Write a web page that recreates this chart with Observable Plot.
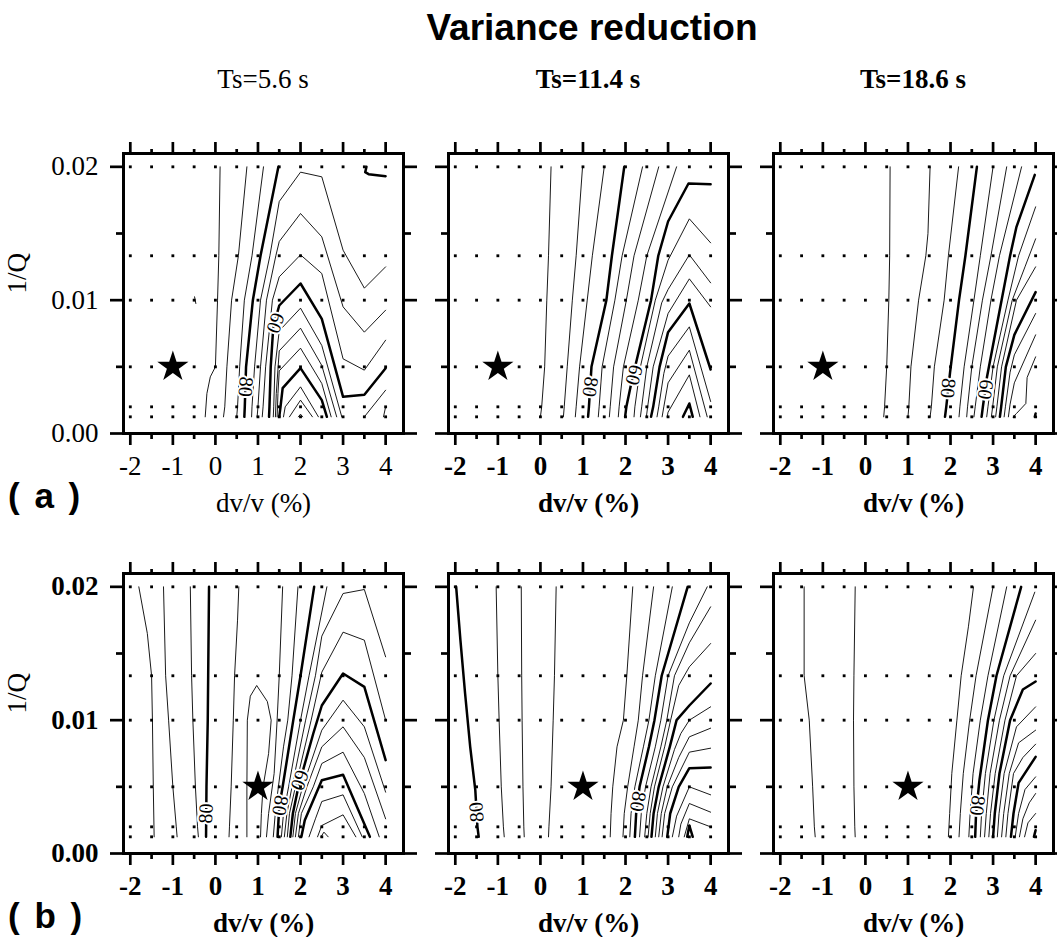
<!DOCTYPE html>
<html><head><meta charset="utf-8">
<script src="https://cdn.jsdelivr.net/npm/d3@7"></script>
<script src="https://cdn.jsdelivr.net/npm/@observablehq/plot@0.6"></script>
<style>
html,body{margin:0;padding:0;background:#fff;overflow:hidden;}
#page{position:relative;width:1057px;height:937px;background:#fff;overflow:hidden;}
.abs{position:absolute;white-space:pre;line-height:1;}
.title{font-family:"Liberation Sans",Arial,sans-serif;font-weight:bold;font-size:37px;transform:translateX(-50%);}
.sub{font-family:"Liberation Serif","Times New Roman",serif;font-size:27px;transform:translateX(-50%);}
.tag{font-family:"Liberation Sans",Arial,sans-serif;font-weight:bold;font-size:35px;word-spacing:5px;}
.panel{position:absolute;}
</style></head><body><div id="page"></div>
<script>
// grid of tested models
const dvvGrid = [-2, -1.5, -1, -0.5, 0, 0.5, 1, 1.5, 2, 2.5, 3, 3.5, 4];
const invQGrid = [0.00125, 0.002, 0.005, 0.01, 0.01333, 0.02];
const xMajor = [-2, -1, 0, 1, 2, 3, 4];
const xMinor = [-1.5, -0.5, 0.5, 1.5, 2.5, 3.5];
const yMajor = [0, 0.01, 0.02];
const yMinor = [0.005, 0.015];
const periods = ["Ts=5.6 s", "Ts=11.4 s", "Ts=18.6 s"];
const rowTags = ["( a )", "( b )"];
const starRowA = {dvv: -1, invQ: 0.005};
const starRowB = {dvv: 1, invQ: 0.005};

// contour lines: [variance reduction level (%), [[dv/v (%), 1/Q in units of 1e-3], ...]]
const contoursA1 = [
  [95, [[-0.24,1.25],[-0.2,3.0],[-0.12,4.25],[0,5],[0.05,10],[0.08,13.33],[0.11,20]]],
  [95, [[-0.49,10.25],[-0.46,9.75]]],
  [90, [[0.19,1.25],[0.22,2],[0.27,5],[0.38,10],[0.54,13.33],[0.74,20]]],
  [85, [[0.5,1.25],[0.52,2],[0.57,5],[0.68,10],[0.86,13.33],[1.13,20]]],
  [80, [[0.68,1.25],[0.69,2],[0.72,5],[0.88,10],[1.06,13.33],[1.48,20]]],
  [75, [[0.85,1.25],[0.86,2],[0.92,5],[1.06,10],[1.28,13.33],[1.5,17.4],[2,19.6],[2.5,19.25],[3,13.75],[3.5,10.9],[4,12.5]]],
  [70, [[0.98,1.25],[1.0,2],[1.06,5],[1.2,10],[1.42,13.33],[1.5,14.4],[2,16.5],[2.5,14.75],[3,9.5],[3.5,7.6],[4,9.25]]],
  [65, [[1.1,1.25],[1.12,2],[1.18,5],[1.34,10],[1.5,11.75],[2,13.4],[2.5,12],[3,5.6],[3.5,4.75],[4,7]]],
  [60, [[1.26,1.25],[1.27,2],[1.3,5],[1.36,8],[1.5,9.6],[2,11.25],[2.5,8.6],[3,2.75],[3.5,2.9],[4,4.9]]],
  [55, [[1.36,1.25],[1.37,2],[1.4,5],[1.5,7.7],[2,9.4],[2.5,6.6],[2.97,1.25]]],
  [50, [[1.41,1.25],[1.43,3],[1.5,6.2],[2,7.9],[2.5,5.1],[2.85,1.25]]],
  [45, [[1.45,1.25],[1.47,3],[1.5,4.7],[2,6.4],[2.5,3.75],[2.72,1.25]]],
  [40, [[1.5,1.25],[1.53,2],[1.58,3.4],[2,4.9],[2.5,2.5],[2.62,1.25]]],
  [35, [[1.6,1.25],[1.64,2],[2,3.5],[2.42,1.25]]],
  [30, [[1.74,1.25],[2,2.5],[2.28,1.25]]],
  [25, [[1.95,1.25],[2,1.45],[2.05,1.25]]],
  [55, [[3.5,1.25],[4,3.25]]],
  [50, [[3.95,1.25],[4,2.0]]],
  [80, [[3.55,20],[3.52,19.6],[3.6,19.45],[4,19.3]]]
];
const contoursA2 = [
  [95, [[0,1.25],[0.03,2],[0.1,5],[0.15,10],[0.19,13.33],[0.25,20]]],
  [90, [[0.54,1.25],[0.56,2],[0.63,5],[0.75,10],[0.84,13.33],[0.99,20]]],
  [85, [[0.82,1.25],[0.84,2],[0.92,5],[1.1,10],[1.22,13.33],[1.5,20]]],
  [80, [[1.12,1.25],[1.14,2],[1.2,5],[1.55,10],[1.68,13.33],[1.97,20]]],
  [75, [[1.36,1.25],[1.38,2],[1.45,5],[1.75,10],[1.92,13.33],[2.4,20]]],
  [70, [[1.62,1.25],[1.64,2],[1.72,5],[2.02,10],[2.2,13.33],[2.78,20]]],
  [65, [[1.83,1.25],[1.85,2],[1.95,5],[2.3,10],[2.5,13.33],[3.2,20]]],
  [60, [[1.99,1.25],[2.02,2],[2.15,4.0],[2.27,5.6],[2.6,10],[2.77,13.33],[3.0,15.9],[3.48,18.75],[4,18.7]]],
  [55, [[2.2,1.25],[2.22,2],[2.35,5],[2.7,10],[3,13],[3.5,16.1],[4,14.3]]],
  [50, [[2.35,1.25],[2.38,2],[2.5,5],[2.85,9.8],[3,10.8],[3.5,13.4],[4,11.3]]],
  [45, [[2.49,1.25],[2.52,2],[2.65,5],[3,9.0],[3.5,11.6],[4,9.5]]],
  [40, [[2.6,1.25],[2.65,2],[2.8,5],[3,7.6],[3.5,9.75],[4,4.8]]],
  [35, [[2.74,1.25],[2.78,2],[2.9,4.5],[3,5.8],[3.5,8.0],[4,2.4]]],
  [30, [[2.86,1.25],[2.9,2],[3,3.8],[3.5,6.25],[3.92,1.25]]],
  [25, [[2.98,1.25],[3,1.6],[3.5,4.4],[3.75,1.25]]],
  [20, [[3.35,1.25],[3.5,2.25],[3.58,1.25]]]
];
const contoursA3 = [
  [95, [[0.43,1.25],[0.45,2],[0.5,5],[0.55,10],[0.57,13.33],[0.58,20]]],
  [90, [[1.0,1.25],[1.02,2],[1.07,5],[1.25,10],[1.42,13.33],[1.47,15],[1.52,20]]],
  [85, [[1.52,1.25],[1.55,2],[1.62,5],[1.85,10],[1.95,13.33],[2.19,20]]],
  [80, [[1.87,1.25],[1.9,2],[1.99,4.6],[2.2,10],[2.35,13.33],[2.62,20]]],
  [75, [[2.2,1.25],[2.22,2],[2.32,5],[2.55,10],[2.7,13.33],[3.0,20]]],
  [70, [[2.38,1.25],[2.4,2],[2.5,5],[2.75,10],[2.95,13.33],[3.32,20]]],
  [65, [[2.55,1.25],[2.58,2],[2.7,5],[2.95,10],[3.15,13.33],[3.67,20]]],
  [60, [[2.73,1.25],[2.76,2],[2.86,4.3],[3.2,10],[3.4,13.33],[3.55,15.5],[3.98,19.4]]],
  [55, [[2.85,1.25],[2.88,2],[3.0,5],[3.35,10],[3.6,13.33],[4,17]]],
  [50, [[2.96,1.25],[2.99,2],[3.1,5],[3.45,10],[3.75,12.5],[4,14.6]]],
  [45, [[3.06,1.25],[3.09,2],[3.2,5],[3.55,10],[4,12.5]]],
  [40, [[3.16,1.25],[3.19,2],[3.3,5],[3.5,7.4],[4,10.6]]],
  [35, [[3.26,1.25],[3.29,2],[3.4,4.6],[3.5,5.9],[4,9]]],
  [30, [[3.36,1.25],[3.4,2.2],[3.5,3.8],[4,7.4]]],
  [25, [[3.47,1.25],[3.55,1.5],[3.77,2.25],[3.8,4.2],[4,5.75]]],
  [20, [[3.98,1.25],[4,1.5]]]
];
const contoursB1 = [
  [65, [[-1.8,20],[-1.6,16.5],[-1.5,13.33],[-1.48,10],[-1.46,5],[-1.44,1.25]]],
  [70, [[-1.22,20],[-1.17,13.33],[-1.1,10],[-1.0,5],[-0.92,2],[-0.9,1.25]]],
  [75, [[-0.59,20],[-0.56,13.33],[-0.53,10],[-0.47,5],[-0.42,2],[-0.4,1.25]]],
  [80, [[-0.15,20],[-0.17,13.33],[-0.18,10],[-0.21,5],[-0.22,1.25]]],
  [85, [[0.55,20],[0.52,17.5],[0.45,13.33],[0.42,10],[0.37,5],[0.33,2],[0.32,1.25]]],
  [90, [[0.74,1.25],[0.74,5],[0.75,10],[0.82,11.8],[0.97,12.6],[1.22,11.4],[1.31,10],[1.25,7.5],[1.12,5],[1.08,3],[1.06,1.25]]],
  [85, [[1.2,1.25],[1.25,3],[1.38,6],[1.45,10],[1.5,13.33],[1.58,20]]],
  [85, [[1.36,1.25],[1.42,3.5],[1.6,8],[1.7,10],[1.8,13.33],[1.94,20]]],
  [80, [[1.46,1.25],[1.5,3.5],[1.58,5],[1.83,10],[2.0,13.33],[2.32,20]]],
  [75, [[1.55,1.25],[1.6,3],[1.72,5],[2.0,10],[2.2,13.33],[2.62,20]]],
  [70, [[1.62,1.25],[1.68,3],[1.8,5],[2.12,10],[2.35,13.33],[2.5,16.3],[3,19.5],[3.5,19.8],[4,14.75]]],
  [65, [[1.69,1.25],[1.74,3],[1.88,5],[2.25,10],[2.5,13.6],[3,16.6],[3.5,16],[4,10]]],
  [60, [[1.76,1.25],[1.82,3],[1.95,5],[2.3,9],[2.5,11.1],[3,13.5],[3.5,12.5],[4,7]]],
  [55, [[1.82,1.25],[1.88,3],[2.05,5],[2.5,9.25],[3,11.5],[3.5,9.5],[4,4.6]]],
  [50, [[1.88,1.25],[1.95,3],[2.15,5],[2.5,8],[3,9.5],[3.5,7.2],[4,2.6]]],
  [45, [[1.95,1.25],[2.02,3],[2.3,5],[2.5,6.75],[3,7.6],[3.5,4.5],[3.85,1.25]]],
  [40, [[2.02,1.25],[2.1,2.5],[2.5,5.5],[3,5.9],[3.63,1.25]]],
  [35, [[2.2,1.25],[2.35,2.6],[2.5,3.9],[3,4.4],[3.45,1.25]]],
  [30, [[2.4,1.25],[2.5,2.1],[3,2.9],[3.3,1.25]]],
  [25, [[2.48,1.25],[2.55,1.6],[2.65,1.25]]]
];
const contoursB2 = [
  [80, [[-1.98,20],[-1.88,16],[-1.77,12],[-1.65,8],[-1.53,4.75],[-1.48,2],[-1.45,1.25]]],
  [85, [[-1.04,20],[-1.0,13.33],[-0.97,10],[-0.92,5],[-0.87,2],[-0.85,1.25]]],
  [90, [[-0.45,20],[-0.44,13.33],[-0.43,10],[-0.41,5],[-0.39,2],[-0.38,1.25]]],
  [95, [[0.37,20],[0.33,13.33],[0.3,10],[0.25,5],[0.2,2],[0.19,1.25]]],
  [95, [[1.64,1.25],[1.66,3],[1.7,5],[1.8,8],[1.95,10],[2.03,13.33],[2.17,20]]],
  [90, [[1.94,1.25],[1.97,3],[2.05,5],[2.2,8],[2.3,10],[2.4,13.33],[2.66,20]]],
  [85, [[2.1,1.25],[2.13,3],[2.22,5],[2.42,8],[2.55,10],[2.7,13.33],[3.1,20]]],
  [80, [[2.22,1.25],[2.25,3],[2.33,5],[2.55,8],[2.68,10],[2.85,13.33],[3.46,20]]],
  [75, [[2.33,1.25],[2.37,3],[2.47,5],[2.7,8],[2.83,10],[3.0,13.33],[3.5,17.3],[3.92,20]]],
  [70, [[2.45,1.25],[2.5,3],[2.6,5],[2.83,8],[2.97,10],[3.15,13.33],[3.5,15.8],[4,18.5]]],
  [65, [[2.53,1.25],[2.58,3],[2.68,5],[2.92,8],[3.06,10],[3.25,12.6],[3.5,14.0],[4,15.75]]],
  [60, [[2.61,1.25],[2.66,3],[2.78,5],[3.04,8],[3.2,10],[3.5,11.1],[4,12.75]]],
  [55, [[2.7,1.25],[2.75,3],[2.88,5],[3.15,7.8],[3.3,9],[3.5,10],[4,11]]],
  [50, [[2.78,1.25],[2.84,3],[2.98,5],[3.25,7.2],[3.5,8.75],[4,9.4]]],
  [45, [[2.86,1.25],[2.92,3],[3.1,5],[3.5,7.6],[4,7.9]]],
  [40, [[2.98,1.25],[3.05,3],[3.25,5],[3.5,6.4],[4,6.45]]],
  [35, [[3.1,1.25],[3.2,2.8],[3.5,5],[4,4.4]]],
  [30, [[3.25,1.25],[3.3,2.2],[3.5,3.75],[4,3.1]]],
  [25, [[3.38,1.25],[3.5,2.6],[4,2.0]]],
  [20, [[3.45,1.25],[3.5,2.1],[3.58,1.25]]]
];
const contoursB3 = [
  [90, [[-1.44,20],[-1.44,13.33],[-1.32,10],[-1.24,5],[-1.2,2],[-1.18,1.25]]],
  [95, [[-0.24,20],[-0.27,13.33],[-0.28,10],[-0.27,5],[-0.25,2],[-0.24,1.25]]],
  [95, [[1.95,1.25],[1.98,3],[2.03,6],[2.15,10],[2.25,13.33],[2.42,17],[2.54,20]]],
  [90, [[2.2,1.25],[2.23,3],[2.3,6],[2.45,10],[2.6,13.33],[3.0,20]]],
  [85, [[2.43,1.25],[2.46,3],[2.53,6],[2.7,10],[2.88,13.33],[3.32,20]]],
  [80, [[2.58,1.25],[2.6,3],[2.68,5.5],[2.88,10],[3.08,13.33],[3.66,20]]],
  [75, [[2.7,1.25],[2.73,3],[2.82,6],[3.02,10],[3.25,13.33],[3.98,19.6]]],
  [70, [[2.8,1.25],[2.84,3],[2.93,6],[3.15,10],[3.4,13.33],[4,17.5]]],
  [65, [[2.9,1.25],[2.94,3],[3.05,6],[3.28,10],[3.55,13.33],[4,15]]],
  [60, [[3.0,1.25],[3.04,3],[3.15,6],[3.4,10],[3.7,12.3],[4,12.9]]],
  [55, [[3.1,1.25],[3.14,3],[3.26,6],[3.55,9.5],[4,11]]],
  [50, [[3.2,1.25],[3.25,3],[3.38,6],[3.6,8.3],[4,9.25]]],
  [45, [[3.3,1.25],[3.35,3],[3.48,6],[3.7,7.2],[4,8.2]]],
  [40, [[3.42,1.25],[3.48,3],[3.6,5.3],[4,7.25]]],
  [35, [[3.52,1.25],[3.6,3],[3.75,4.8],[4,5.75]]],
  [30, [[3.62,1.25],[3.7,2.6],[3.85,3.8],[4,4.5]]],
  [25, [[3.74,1.25],[3.82,2.3],[4,3.0]]],
  [20, [[3.96,1.25],[4,1.75]]]
];

// contour labels: [text, dv/v, 1/Q (1e-3), angle]
const labelsA1 = [["80", 0.71, 3.5, 95], ["60", 1.41, 8.3, 110]];
const labelsA2 = [["80", 1.17, 3.5, 98], ["60", 2.2, 4.4, 105]];
const labelsA3 = [["80", 1.94, 3.4, 95], ["60", 2.82, 3.3, 98]];
const labelsB1 = [["80", -0.22, 3.0, -88], ["80", 1.52, 3.6, 100], ["60", 1.98, 5.5, 110]];
const labelsB2 = [["80", -1.5, 3.1, -95], ["80", 2.29, 3.9, 100]];
const labelsB3 = [["80", 2.63, 3.6, 97]];

const FR = 280, PAD_T = 20, PAD_B = 90, PAD_R = 30;
const serif = "'Liberation Serif','Times New Roman',serif";
const page = document.getElementById("page");

function panel({contours, labels, star, left, top, yLabels, bold}) {
  const rows = contours.flatMap(([level, pts], i) => pts.map(([dvv, q]) => ({id: i, level, dvv, invQ: q / 1000})));
  const thick = rows.filter(d => d.level % 20 === 0);
  const thin = rows.filter(d => d.level % 20 !== 0);
  const grid = dvvGrid.flatMap(dvv => invQGrid.map(invQ => ({dvv, invQ})));
  const labs = labels.map(([text, dvv, q, angle]) => ({text, dvv, invQ: q / 1000, angle}));
  const mL = yLabels ? 123 : 30;
  const fw = bold ? "bold" : "normal";
  const tw = 2.7;
  const none = () => "";
  const svg = Plot.plot({
    width: mL + FR + PAD_R, height: PAD_T + FR + PAD_B,
    marginLeft: mL, marginRight: PAD_R, marginTop: PAD_T, marginBottom: PAD_B,
    x: {domain: [-2.16, 4.42], label: null},
    y: {domain: [0, 0.021], label: null},
    style: {fontFamily: serif, background: "transparent", overflow: "visible", color: "black"},
    marks: [
      Plot.line(thin, {x: "dvv", y: "invQ", z: "id", stroke: "black", strokeWidth: 0.9, curve: "linear"}),
      Plot.line(thick, {x: "dvv", y: "invQ", z: "id", stroke: "black", strokeWidth: 2.5, curve: "linear"}),
      Plot.text(labs, {x: "dvv", y: "invQ", text: "text", rotate: "angle", fontSize: 20, fill: "black", stroke: "white", strokeWidth: 4, paintOrder: "stroke"}),
      Plot.dot(grid, {x: "dvv", y: "invQ", symbol: "square", r: 1.6, fill: "black"}),
      Plot.dot([star], {x: "dvv", y: "invQ", symbol: "star", r: 9.8, fill: "black"}),
      Plot.frame({stroke: "black", strokeWidth: 3}),
      Plot.axisX({ticks: xMajor, anchor: "bottom", tickSize: 12, tickPadding: 10, tickFormat: d => String(d), fontSize: 27, fontWeight: fw, strokeWidth: tw, label: null}),
      Plot.axisX({ticks: xMinor, anchor: "bottom", tickSize: 6, tickFormat: none, strokeWidth: tw, label: null}),
      Plot.axisX({ticks: xMajor, anchor: "top", tickSize: 12, tickFormat: none, strokeWidth: tw, label: null}),
      Plot.axisX({ticks: xMinor, anchor: "top", tickSize: 5, tickFormat: none, strokeWidth: tw, label: null}),
      Plot.axisY({ticks: yMajor, anchor: "left", tickSize: 13, tickPadding: 12, tickFormat: yLabels ? (d => d.toFixed(2)) : none, fontSize: 27, fontWeight: fw, strokeWidth: tw, label: null}),
      Plot.axisY({ticks: yMinor, anchor: "left", tickSize: 7, tickFormat: none, strokeWidth: tw, label: null}),
      Plot.axisY({ticks: yMajor, anchor: "right", tickSize: 13, tickFormat: none, strokeWidth: tw, label: null}),
      Plot.axisY({ticks: yMinor, anchor: "right", tickSize: 7, tickFormat: none, strokeWidth: tw, label: null}),
      Plot.text(["dv/v (%)"], {frameAnchor: "bottom", dy: 78, lineAnchor: "bottom", fontSize: 27, fontWeight: fw, fill: "black"}),
      ...(yLabels ? [Plot.text(["1/Q"], {frameAnchor: "left", dx: -106, rotate: -90, fontSize: 27, fill: "black"})] : [])
    ]
  });
  svg.classList.add("panel");
  svg.style.left = (left - mL) + "px";
  svg.style.top = (top - PAD_T) + "px";
  page.appendChild(svg);
}

const colLeft = [123, 448, 773];
const rowTop = [153, 573];
const panels = [
  {contours: contoursA1, labels: labelsA1, star: starRowA, col: 0, row: 0, bold: false},
  {contours: contoursA2, labels: labelsA2, star: starRowA, col: 1, row: 0, bold: true},
  {contours: contoursA3, labels: labelsA3, star: starRowA, col: 2, row: 0, bold: true},
  {contours: contoursB1, labels: labelsB1, star: starRowB, col: 0, row: 1, bold: true},
  {contours: contoursB2, labels: labelsB2, star: starRowB, col: 1, row: 1, bold: true},
  {contours: contoursB3, labels: labelsB3, star: starRowB, col: 2, row: 1, bold: true}
];
panels.forEach(p => panel({...p, left: colLeft[p.col], top: rowTop[p.row], yLabels: p.col === 0}));

function addText(cls, text, left, top, extra) {
  const d = document.createElement("div");
  d.className = "abs " + cls;
  d.textContent = text;
  d.style.left = left + "px";
  d.style.top = top + "px";
  if (extra) Object.assign(d.style, extra);
  page.appendChild(d);
}
addText("title", "Variance reduction", 592, 9);
periods.forEach((t, i) => addText("sub", t, colLeft[i] + FR / 2, 66, {fontWeight: i === 0 ? "normal" : "bold"}));
addText("tag", rowTags[0], 8, 478);
addText("tag", rowTags[1], 8, 898);
</script></body></html>
